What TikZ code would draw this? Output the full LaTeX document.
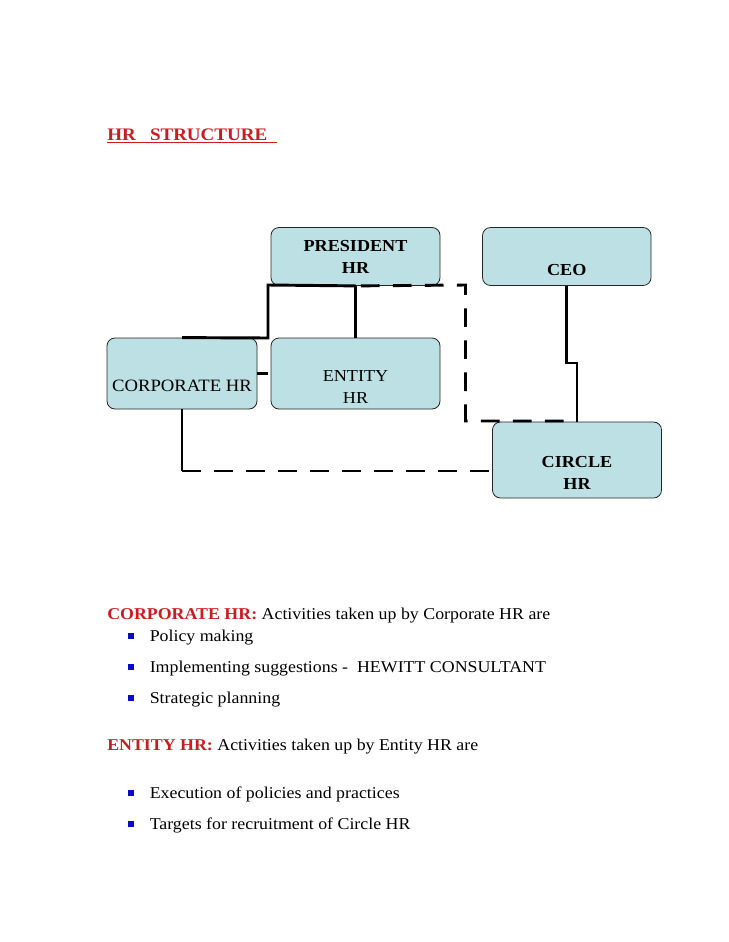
\documentclass[tikz,border=0pt]{standalone}
\usepackage{fontspec}
\setmainfont{Liberation Serif}[FakeStretch=1.08]
\usepackage{xcolor}
\definecolor{boxfill}{RGB}{188,224,227}
\definecolor{titlered}{RGB}{204,28,32}
\definecolor{bulletblue}{RGB}{10,10,200}
\begin{document}
\begin{tikzpicture}[x=0.75pt,y=-0.75pt,
  hrbox/.style={draw=black!85,line width=0.6pt,fill=boxfill,rounded corners=6pt,inner sep=0pt,align=center,font=\fontsize{12.6}{16.5}\selectfont},
  conn/.style={line width=2.2pt},
  dconn/.style={line width=2.2pt,dash pattern=on 14pt off 10pt},
  body/.style={anchor=base west,inner sep=0pt,font=\fontsize{12.4}{15}\selectfont},
  bul/.style={fill=bulletblue,minimum size=4.5pt,inner sep=0pt}]
\useasboundingbox (0,0) rectangle (728,942);
\fill[white] (0,0) rectangle (728,942);
% boxes
\node[hrbox,minimum width=126.75pt,minimum height=43.5pt] (pres) at (355.5,256.5) {\bfseries PRESIDENT\\\bfseries HR};
\node[hrbox,minimum width=126.4pt,minimum height=43.5pt] (ceo) at (566.8,256.5) {\bfseries\strut\\\bfseries CEO};
\node[hrbox,minimum width=112.5pt,minimum height=53.25pt] (corp) at (182,373.5) {\strut\\[-1pt]\fontsize{13}{16.5}\selectfont CORPORATE HR};
\node[hrbox,minimum width=126.75pt,minimum height=53.25pt] (ent) at (355.5,373.5) {\strut\\[1pt]ENTITY\\HR};
\node[hrbox,minimum width=126.8pt,minimum height=57pt] (circ) at (577,460) {\strut\\\bfseries CIRCLE\\\bfseries HR};
% connectors
\coordinate (p1) at (268,285);
\coordinate (p2) at (268,338);
\draw[conn] (pres.south) -- (p1) -- (p2) -- (corp.north);
\draw[conn] (pres.south) -- (ent.north);
\draw[line width=2.2pt,dash pattern=on 8pt off 6pt] (corp.east) -- (ent.west);
\coordinate (d1) at (465.5,285);
\coordinate (d2) at (465.5,421);
\draw[dconn,dash phase=-4pt] (pres.south) -- (d1) -- (d2) -- (d2 -| circ.north);
\coordinate (c1) at (566.8,363);
\coordinate (c2) at (577,363);
\draw[conn] (ceo.south) -- (c1) -- (c2) -- (circ.north);
\coordinate (k1) at (182,471);
\draw[conn] (corp.south) -- (k1);
\draw[dconn] (k1) -- (k1 -| circ.west);
% title
\node[anchor=base west,inner sep=0pt,text=titlered,font=\fontsize{13.2}{16}\selectfont\bfseries] (title) at (107,140) {\underline{HR\ \ \ STRUCTURE\ \ }};
% body text
\node[body] (t1) at (107,619.5) {{\color{titlered}\bfseries CORPORATE HR:} Activities taken up by Corporate HR are};
\node[bul] (b1) at (130.5,636) {};
\node[body] (i1) at (149.5,641) {Policy making};
\node[bul] (b2) at (130.5,667) {};
\node[body] (i2) at (149.5,672) {Implementing suggestions -\ \ HEWITT CONSULTANT};
\node[bul] (b3) at (130.5,698) {};
\node[body] (i3) at (149.5,703) {Strategic planning};
\node[body] (t2) at (107,750) {{\color{titlered}\bfseries ENTITY HR:} Activities taken up by Entity HR are};
\node[bul] (b4) at (130.5,793) {};
\node[body] (i4) at (149.5,798) {Execution of policies and practices};
\node[bul] (b5) at (130.5,824) {};
\node[body] (i5) at (149.5,829) {Targets for recruitment of Circle HR};
\end{tikzpicture}
\end{document}
